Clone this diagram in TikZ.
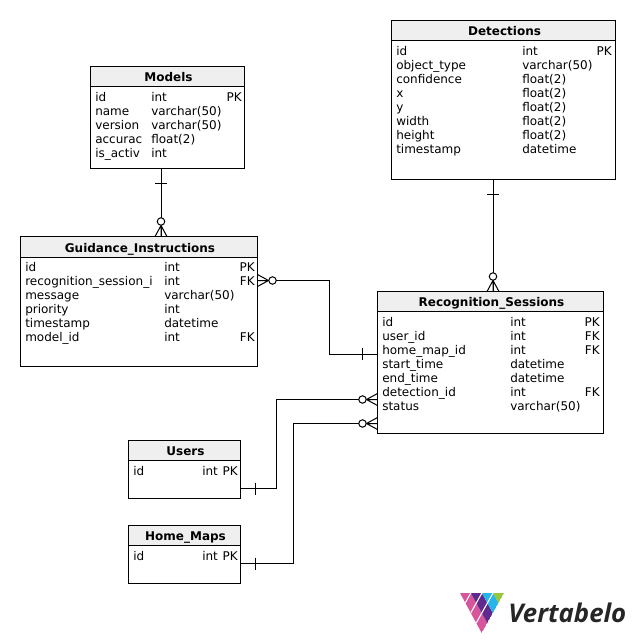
\documentclass[tikz,border=0pt]{standalone}
\usepackage{fontspec}
\setmainfont{DejaVu Sans}
\newfontfamily\logofont{Open Sans}
\usetikzlibrary{calc}
\definecolor{headgray}{HTML}{EFEFEF}
\definecolor{logopink}{HTML}{D6559B}
\definecolor{logopurple}{HTML}{5F2A8E}
\definecolor{logoblue}{HTML}{25B5EA}
\definecolor{logogreen}{HTML}{96C63E}
\tikzset{
  every node/.style={font=\fontsize{9}{10}\selectfont,inner sep=0pt},
  link/.style={line width=.75pt},
  tablebox/.style={line width=.75pt},
  tablehead/.style={font=\fontsize{9}{10}\selectfont\bfseries,anchor=base},
  celltext/.style={anchor=base west},
  keytext/.style={anchor=base east},
  crowfoot/.pic={
    \draw[link] (0,-6)--(11,0)--(0,6) (0,0)--(11,0);
    \draw[link,fill=white] (15,0) circle (2.8pt);
  },
  onebar/.pic={\draw[link] (0,-6)--(0,6);}
}
% title box: name, title, x1, y1, x2, y2, bottom of the head
\newcommand{\tablebox}[7]{
  \fill[headgray] (#3,#4) rectangle (#5,#7);
  \draw[tablebox] (#3,#4) rectangle (#5,#6);
  \draw[tablebox] (#3,#7)--(#5,#7);
  \node[tablehead] (#1) at ({(#3+#5)/2+1},#7-5) {#2};
}
% rows: name, x col 1, x col 2, y of first baseline, rows
\newcommand{\tablerows}[5]{
  \foreach \fld/\typ [count=\k] in {#5}{
    \node[celltext] (#1-f\k) at (#2,{#4+14*(\k-1)}) {\fld};
    \node[celltext] (#1-t\k) at (#3,{#4+14*(\k-1)}) {\typ};
  }
}
% keys: name, right x, y of first baseline, row/key
\newcommand{\tablekeys}[4]{
  \foreach \k/\key in {#4}{
    \node[keytext] (#1-k\k) at (#2,{#3+14*(\k-1)}) {\key};
  }
}
\begin{document}
\begin{tikzpicture}[x=.75pt,y=-.75pt]
\useasboundingbox (0,0) rectangle (635,643);
%tables
\tablebox{detections}{Detections}{391.5}{20.5}{615.5}{179.5}{40}
\tablerows{detections}{396}{522}{55}{id/int,object\_type/varchar(50),confidence/float(2),x/float(2),y/float(2),width/float(2),height/float(2),timestamp/datetime}
\tablekeys{detections}{612}{55}{1/PK}
\tablebox{models}{Models}{90.5}{66.5}{244.5}{168}{86}
\tablerows{models}{95}{151}{101}{id/int,name/varchar(50),version/varchar(50),accurac/float(2),is\_activ/int}
\tablekeys{models}{242}{101}{1/PK}
\tablebox{guidance}{Guidance\_Instructions}{20.5}{236.5}{257.5}{366}{257}
\tablerows{guidance}{25}{164}{271.5}{id/int,recognition\_session\_i/int,message/varchar(50),priority/int,timestamp/datetime,model\_id/int}
\tablekeys{guidance}{255}{271.5}{1/PK,2/FK,6/FK}
\tablebox{sessions}{Recognition\_Sessions}{377.5}{291.5}{603.5}{433}{311}
\tablerows{sessions}{382}{510}{326}{id/int,user\_id/int,home\_map\_id/int,start\_time/datetime,end\_time/datetime,detection\_id/int,status/varchar(50)}
\tablekeys{sessions}{600}{326}{1/PK,2/FK,3/FK,6/FK}
\tablebox{users}{Users}{128.5}{440.5}{240.5}{498}{460}
\tablerows{users}{133}{202}{475}{id/int}
\tablekeys{users}{238}{475}{1/PK}
\tablebox{homemaps}{Home\_Maps}{128.5}{525.5}{240.5}{583}{545}
\tablerows{homemaps}{133}{202}{560}{id/int}
\tablekeys{homemaps}{238}{560}{1/PK}
%links
\coordinate (mod-a) at (161,168);\coordinate (mod-b) at (161,236.5);
\coordinate (det-a) at (493,179.5);\coordinate (det-b) at (493,291.5);
\coordinate (gui-a) at (257.5,280.5);\coordinate (gui-b) at (377.5,354);
\coordinate (usr-a) at (240.5,488.5);\coordinate (usr-b) at (377.5,399.5);
\coordinate (hom-a) at (240.5,563.5);\coordinate (hom-b) at (377.5,423.5);
\draw[link] (mod-a)--(mod-b);
\draw[link] (det-a)--(det-b);
\draw[link] (gui-a)-|(329.5,354)--(gui-b);
\draw[link] (usr-a)-|(276,399.5)--(usr-b);
\draw[link] (hom-a)-|(293.5,423.5)--(hom-b);
\pic[rotate=90] at ($(mod-a)+(0,15)$) {onebar};
\pic[rotate=90] at ($(det-a)+(0,15)$) {onebar};
\pic at (362.5,354) {onebar};
\pic at (255,488.5) {onebar};
\pic at (255,563.5) {onebar};
\pic[rotate=90] at (mod-b) {crowfoot};
\pic[rotate=90] at (det-b) {crowfoot};
\pic at (gui-a) {crowfoot};
\pic[rotate=180] at (usr-b) {crowfoot};
\pic[rotate=180] at (hom-b) {crowfoot};
%logo
\begin{scope}
\clip (460,593)--(504,593)--(481.7,633)--cycle;
\foreach \j/\col in {0/logopink,1/logopurple,2/logoblue,3/logogreen}{
  \foreach \i in {0,...,4}{
    \fill[\col] ($(481.7,633)+\i*(-5.5,-10)+\j*(5.6,-10)$)
      --++(-5.5,-10)--++(5.6,-10)--++(5.5,10)--cycle;
  }
}
\foreach \i in {1,2,3}{
  \draw[white,line width=.8pt] ($(481.7,633)+\i*(-5.5,-10)$)--++(29.6,-52.8);
}
\end{scope}
\node[font=\logofont\fontsize{19.3}{22}\selectfont\bfseries\itshape,text=black!85,anchor=base west] (vertabelo) at (508,622.5) {Vertabelo};
\end{tikzpicture}
\end{document}
